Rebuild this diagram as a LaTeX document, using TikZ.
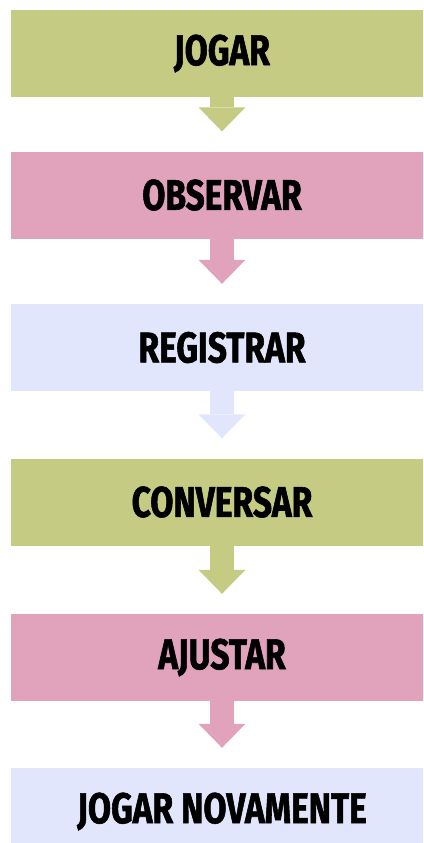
\documentclass[tikz,border=0pt]{standalone}
\usepackage{fontspec}
\setmainfont{Fira Sans}[FakeStretch=0.78,BoldFeatures={FakeBold=1.3}]
\usetikzlibrary{arrows.meta}
\definecolor{verde}{HTML}{C5CB82}
\definecolor{rosa}{HTML}{E0A3BB}
\definecolor{lilas}{HTML}{E1E6FC}
\tikzset{
box/.style = {rectangle,minimum width=422pt,minimum height=87pt,inner sep=0pt,
  font=\fontsize{43}{43}\selectfont\bfseries},
seta/.style = {draw=#1,line width=24pt,
  -{Triangle[length=24pt,width=47pt,line width=0pt,fill=#1]}}
}
\begin{document}
\begin{tikzpicture}[x=1pt,y=1pt]
\path[use as bounding box,clip] (0,0) rectangle (423,-843);
\node[box,fill=verde] (jogar) at(222,-53.5) {JOGAR};
\node[box,fill=rosa] (observar) at(222,-195) {OBSERVAR};
\node[box,fill=lilas] (registrar) at(222,-347.5) {REGISTRAR};
\node[box,fill=verde] (conversar) at(222,-502) {CONVERSAR};
\node[box,fill=rosa] (ajustar) at(222,-657.5) {AJUSTAR};
\node[box,fill=lilas] (novamente) at(222,-811.5) {JOGAR NOVAMENTE};
% setas entre as etapas
\draw[seta=verde] (jogar) -- ([yshift=20pt]observar.north);
\draw[seta=rosa] (observar) -- ([yshift=20pt]registrar.north);
\draw[seta=lilas] (registrar) -- ([yshift=20pt]conversar.north);
\draw[seta=verde] (conversar) -- ([yshift=20pt]ajustar.north);
\draw[seta=rosa] (ajustar) -- ([yshift=20pt]novamente.north);
\end{tikzpicture}
\end{document}
